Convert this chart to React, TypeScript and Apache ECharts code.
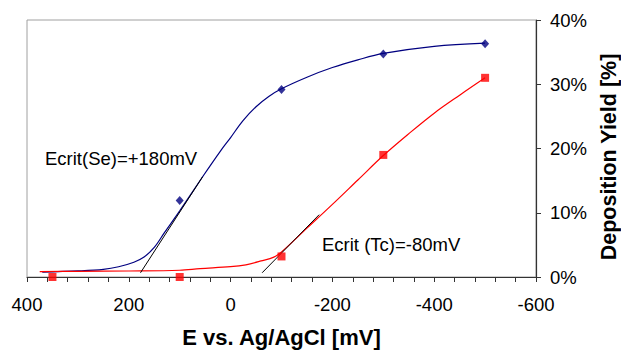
import React, { useEffect, useRef } from "react";
import * as echarts from "echarts";

// Measured points (x in mV, y in %)
const seX = [100, -100, -300, -500];
const seY = [11.9, 29.2, 34.7, 36.3];
const tcX = [350, 100, -100, -300, -500];
const tcY = [0, 0, 3.2, 19.0, 31.0];

// Fitted curves
const seCurveX = [370, 300, 250, 220, 190, 170, 150, 130, 100, 55, 20, 0, -24, -50, -75, -100, -150, -200, -250, -300, -400, -500];
const seCurveY = [0.75, 0.95, 1.2, 1.6, 2.3, 3.1, 4.6, 6.9, 10.3, 15.6, 19.6, 21.7, 24.3, 26.5, 28.1, 29.3, 31.1, 32.6, 33.8, 34.8, 35.9, 36.4];
const tcCurveX = [375, 300, 200, 100, 60, 0, -30, -60, -85, -100, -150, -200, -250, -300, -350, -400, -450, -500];
const tcCurveY = [0.85, 0.88, 0.93, 1.05, 1.3, 1.6, 1.9, 2.5, 3.1, 3.9, 7.6, 11.3, 15.1, 18.9, 22.3, 25.5, 28.3, 31.0];

// Tangent lines
const seTangentX = [177, 55];
const seTangentY = [0.66, 15.6];
const tcTangentX = [-62, -174];
const tcTangentY = [0.66, 9.7];

const pair = (xs: number[], ys: number[]) => xs.map((x, i) => [x, ys[i]]);

const FONT = "'Liberation Sans', Arial, sans-serif";

export default function App() {
  const ref = useRef<HTMLDivElement>(null);
  useEffect(() => {
    if (!ref.current) return;
    const chart = echarts.init(ref.current, null, { renderer: "svg" });
    chart.setOption({
      animation: false,
      backgroundColor: "#ffffff",
      grid: {
        left: 27,
        right: 85,
        top: 20,
        bottom: 72,
        show: true,
        borderColor: "#a0a0a0",
        borderWidth: 1,
      },
      xAxis: {
        type: "value",
        inverse: true,
        min: -600,
        max: 400,
        interval: 200,
        splitNumber: 5,
        name: "E vs. Ag/AgCl [mV]",
        nameLocation: "middle",
        nameGap: 49,
        nameTextStyle: { fontFamily: FONT, fontSize: 22, fontWeight: "bold", color: "#000" },
        axisLine: { show: true, onZero: false, lineStyle: { color: "#333", width: 1.2 } },
        axisTick: { show: true, inside: false, length: 5, lineStyle: { color: "#333" } },
        minorTick: { show: true, splitNumber: 5, length: 5, lineStyle: { color: "#333" } },
        splitLine: { show: false },
        axisLabel: { fontFamily: FONT, fontSize: 18.5, color: "#000", margin: 18 },
      },
      yAxis: {
        type: "value",
        position: "right",
        min: 0,
        max: 40,
        interval: 10,
        axisLine: { show: true, onZero: false, lineStyle: { color: "#333", width: 1.2 } },
        axisTick: { show: true, inside: false, length: 5, lineStyle: { color: "#333" } },
        splitLine: { show: false },
        axisLabel: { fontFamily: FONT, fontSize: 18.5, color: "#000", margin: 14, formatter: "{value}%" },
      },
      graphic: [
        {
          type: "text",
          x: 608.5,
          y: 157,
          rotation: Math.PI / 2,
          style: {
            text: "Deposition Yield [%]",
            font: `bold 21.5px ${FONT}`,
            fill: "#000",
            textAlign: "center",
            textVerticalAlign: "middle",
          },
        },
        {
          type: "text",
          x: 45,
          y: 158,
          style: { text: "Ecrit(Se)=+180mV", font: `18.5px ${FONT}`, fill: "#000", textVerticalAlign: "middle" },
        },
        {
          type: "text",
          x: 322,
          y: 244,
          style: { text: "Ecrit (Tc)=-80mV", font: `18.5px ${FONT}`, fill: "#000", textVerticalAlign: "middle" },
        },
      ],
      series: [
        {
          type: "line",
          data: pair(seCurveX, seCurveY),
          smooth: 0.35,
          showSymbol: false,
          symbol: "none",
          lineStyle: { color: "#000080", width: 1.2 },
          z: 2,
        },
        {
          type: "line",
          data: pair(tcCurveX, tcCurveY),
          smooth: 0.35,
          showSymbol: false,
          symbol: "none",
          lineStyle: { color: "#ff0000", width: 1.2 },
          z: 2,
        },
        {
          type: "line",
          data: pair(seTangentX, seTangentY),
          symbol: "none",
          lineStyle: { color: "#000", width: 1 },
          z: 3,
        },
        {
          type: "line",
          data: pair(tcTangentX, tcTangentY),
          symbol: "none",
          lineStyle: { color: "#000", width: 1 },
          z: 3,
        },
        {
          type: "scatter",
          data: pair(seX, seY),
          symbol: "diamond",
          symbolSize: [8, 9],
          itemStyle: { color: "#000080" },
          clip: false,
          z: 5,
        },
        {
          type: "scatter",
          data: pair(tcX, tcY),
          symbol: "rect",
          symbolSize: 8,
          itemStyle: { color: "#ff0000" },
          clip: false,
          z: 5,
        },
      ],
    });
    return () => chart.dispose();
  }, []);
  return <div ref={ref} style={{ position: "absolute", left: 0, top: 0, width: 621, height: 353 }} />;
}
